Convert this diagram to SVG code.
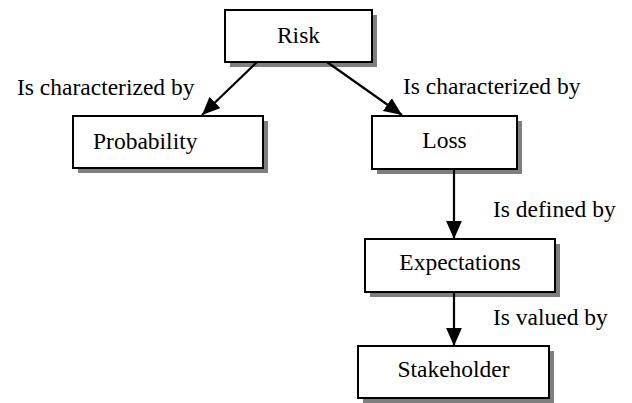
<svg xmlns="http://www.w3.org/2000/svg" width="632" height="403" viewBox="0 0 632 403">
<defs>
<marker id="ah" markerUnits="userSpaceOnUse" markerWidth="18" markerHeight="16" refX="16" refY="7" orient="auto" viewBox="0 0 16 14">
<path d="M0,0 L16,7 L0,14 Z" fill="#000"/>
</marker>
</defs>
<rect x="0" y="0" width="632" height="403" fill="#ffffff"/>
<g font-family="'Liberation Serif', 'DejaVu Serif', serif" font-size="23.5px" fill="#000000">
<g id="risk">
<rect x="230" y="15" width="147" height="52" fill="#7f7f7f"/>
<rect x="225" y="10" width="147" height="52" fill="#ffffff" stroke="#000000" stroke-width="2"/>
<text x="298.5" y="43" text-anchor="middle">Risk</text>
</g>
<g id="probability">
<rect x="78" y="121" width="190" height="52" fill="#7f7f7f"/>
<rect x="73" y="116" width="190" height="52" fill="#ffffff" stroke="#000000" stroke-width="2"/>
<text x="93" y="149">Probability</text>
</g>
<g id="loss">
<rect x="377" y="121" width="145" height="53" fill="#7f7f7f"/>
<rect x="372" y="116" width="145" height="53" fill="#ffffff" stroke="#000000" stroke-width="2"/>
<text x="444.5" y="148" text-anchor="middle">Loss</text>
</g>
<g id="expectations">
<rect x="370" y="244" width="190" height="53" fill="#7f7f7f"/>
<rect x="365" y="239" width="190" height="53" fill="#ffffff" stroke="#000000" stroke-width="2"/>
<text x="460" y="270" text-anchor="middle">Expectations</text>
</g>
<g id="stakeholder">
<rect x="363" y="351" width="191" height="52" fill="#7f7f7f"/>
<rect x="358" y="346" width="191" height="52" fill="#ffffff" stroke="#000000" stroke-width="2"/>
<text x="453.5" y="377" text-anchor="middle">Stakeholder</text>
</g>
<g id="connectors">
<g stroke="#000000" stroke-width="2.2" fill="none">
<line x1="257" y1="62" x2="202" y2="115" marker-end="url(#ah)"/>
<line x1="327" y1="62" x2="402" y2="115" marker-end="url(#ah)"/>
<line x1="454" y1="169" x2="454" y2="239" marker-end="url(#ah)"/>
<line x1="454" y1="292" x2="454" y2="346" marker-end="url(#ah)"/>
</g>
<text x="17" y="95">Is characterized by</text>
<text x="403" y="94">Is characterized by</text>
<text x="493" y="217">Is defined by</text>
<text x="493" y="325">Is valued by</text>
</g>
</g>
</svg>
